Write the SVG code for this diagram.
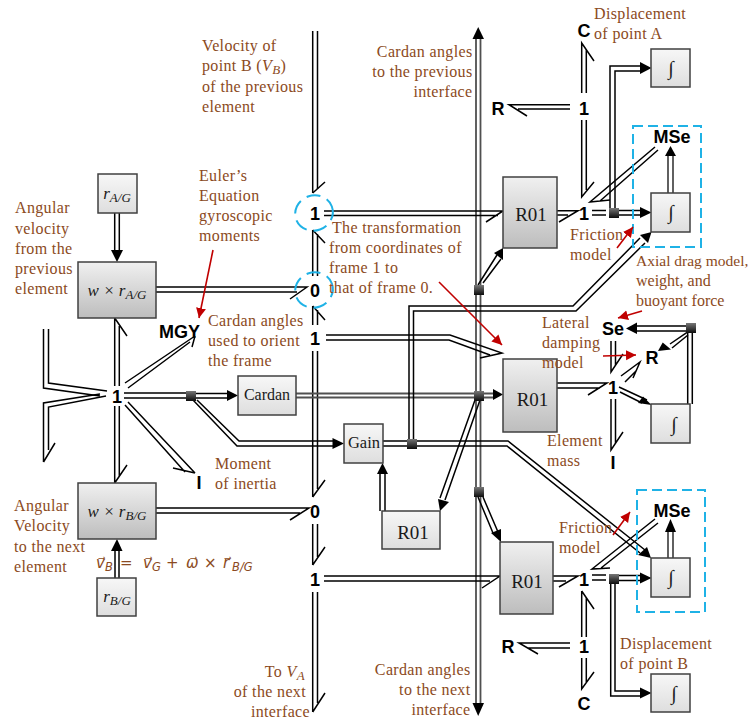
<svg xmlns="http://www.w3.org/2000/svg" width="753" height="720" viewBox="0 0 753 720">
<style>
text{font-family:"Liberation Serif","Times New Roman",serif}
.t{font-size:16px;fill:#8b4a22;letter-spacing:.35px}
.e{text-anchor:end}
.m{text-anchor:middle}
.k{font-family:"Liberation Sans",Arial,sans-serif;font-size:18px;font-weight:700;fill:#000;text-anchor:middle}
.n{fill:#1a1a1a;text-anchor:middle}
.i{font-style:italic}
.s{font-size:13px;font-style:italic}
.f{font-family:"DejaVu Sans",sans-serif;font-size:15px;font-style:italic;fill:#8b4a22;letter-spacing:0}
.fs{font-size:11.500px}
.l{fill:none;stroke:#000;stroke-width:1.5}
.g{fill:none;stroke:#505050;stroke-width:1.8}
.h{fill:#000;stroke:none}
.r{fill:none;stroke:#c00000;stroke-width:1.6;marker-end:url(#red)}
.bx{stroke:#404040;stroke-width:1.5}
.lt{fill:url(#light)}
.dk{fill:url(#dark)}
.j{fill:url(#junction)}
.c{fill:none;stroke:#1fb2e6;stroke-width:2}
.int{font-size:20px;fill:#222;text-anchor:middle}
</style>
<defs>
<linearGradient id="light" x1="0" y1="0" x2="0" y2="1"><stop offset="0" stop-color="#f7f7f7"/><stop offset="1" stop-color="#dedede"/></linearGradient>
<linearGradient id="dark" x1="0" y1="0" x2="0" y2="1"><stop offset="0" stop-color="#f0f0f0"/><stop offset="1" stop-color="#bdbdbd"/></linearGradient>
<linearGradient id="junction" x1="0" y1="0" x2="0" y2="1"><stop offset="0" stop-color="#777"/><stop offset="1" stop-color="#0c0c0c"/></linearGradient>
<marker id="red" markerUnits="userSpaceOnUse" markerWidth="12" markerHeight="12" refX="10" refY="5" orient="auto"><path d="M0 0L10 5L0 10Z" fill="#c00000"/></marker>
</defs>

<g id="connectors">
<path class="l" d="M312.7 31V193M317.5 31V189"/>
<path class="l" d="M312.7 193L325 182"/>
<path class="l" d="M312.7 230V276M317.5 234V276M312.7 230L325 243"/>
<path class="l" d="M312.7 306V325M317.5 310V325M312.7 306L325 320"/>
<path class="l" d="M312.7 351V497M317.5 351V489M312.7 497L325 480"/>
<path class="l" d="M312.7 524V565M317.5 524V557M312.7 565L325 547"/>
<path class="l" d="M312.7 592V712M317.5 592V703M312.7 712L325 693"/>
<path class="g" d="M476 38V703M480.5 38V703"/>
<polygon class="h" points="478.2,27 484,39 472.5,39"/>
<polygon class="h" points="478.2,716 484,703 472.5,703"/>
<path class="l" d="M114.7 213V250M119.3 213V250"/>
<polygon class="h" points="117,262 111,250 123,250"/>
<path class="l" d="M115 551V578M119 551V578"/>
<polygon class="h" points="117,539 111,551 122.500,551"/>
<path class="l" d="M114.700 318V386M119.300 326V386M114.700 318L127 336"/>
<path class="l" d="M114.700 406V483M119.300 406V476M114.700 483L127 465"/>
<path class="l" d="M43.500 329V388L100 396M48.500 329V383L107 391"/>
<path class="l" d="M43.500 462V403L100 394M48.500 450V407L106 396M43.500 462L55 443"/>
<path class="l" d="M125 383L195 336M128 388L190 342M195 336L192 347"/>
<path class="l" d="M125 405L185 472M128 402L195 473M195 473L173 468"/>
<path class="l" d="M124 393H186M124 398H186"/>
<path class="l" d="M196 393.500H228M196 398H228"/>
<polygon class="h" points="238,395.500 227,390 227,401"/>
<path class="l" d="M193 400L237 446H333M197 400L239 441H333"/>
<polygon class="h" points="344,443.500 332.500,438 332.500,449"/>
<path class="g" d="M296 393.500H494M296 397.500H494"/>
<polygon class="h" points="503,394.500 493,389 493,400"/>
<path class="l" d="M383 441H407M383 446H407"/>
<path class="l" d="M417 441H508L645 550M417 446H507L640 553"/>
<polygon class="h" points="651,558 638,555 647,547"/>
<path class="l" d="M409 439V306H573L640 238M413.500 439V311H576L645 243"/>
<polygon class="h" points="651.500,232 640,235 648,243"/>
<path class="l" d="M478 285L497 255M483 283L501 259"/>
<polygon class="h" points="503,248 494,253 503,260"/>
<path class="l" d="M475 400L440 498M480 400L445 500"/>
<polygon class="h" points="440,511 438,499 449,502"/>
<path class="l" d="M380 511V474M385 511V474"/>
<polygon class="h" points="382.500,463 377,474 388,474"/>
<path class="l" d="M478 497L493 533M483 497L498 532"/>
<polygon class="h" points="501,542 491,533 501,529"/>
<path class="l" d="M324 576H500L482 588M324 581H490"/>
<path class="l" d="M324 211H503L486 222M324 215.500H498"/>
<path class="l" d="M326 335H450L502 353L480 358M326 340H449L490 355"/>
<path class="l" d="M156 287H307L290 299M156 292H297"/>
<path class="l" d="M156 508H309L290 520M156 513H300"/>
<path class="l" d="M557 210.700H578L559 222M557 215H568"/>
<path class="l" d="M592 210.500H606M592 215H606"/>
<path class="l" d="M619 210.500H640M619 215H640"/>
<polygon class="h" points="651.500,212.500 640,207 640,218"/>
<path class="l" d="M610 208V66H640M615 208V71H640"/>
<polygon class="h" points="651.500,68 640,62 640,74"/>
<path class="l" d="M581.700 120V197L594 182M586.300 120V190"/>
<path class="l" d="M581.700 93V43L594 61M586.300 93V50"/>
<path class="l" d="M570 104.700H509L527 116M570 109H518"/>
<path class="l" d="M655 147L590 202L610 200M658 150L600 201"/>
<path class="g" d="M668 193V156M673 193V156"/>
<polygon class="h" points="670.500,146 665,156 676,156"/>
<path class="l" d="M557 383H607L588 395M557 388H600"/>
<path class="l" d="M611 341V372L623 354M615.500 341V365"/>
<path class="l" d="M611 399V450L623 432M615.500 399V443"/>
<path class="l" d="M621 376L640 362L633 378M625 382L636 371"/>
<path class="l" d="M619 387L647 400M620 392L642 403"/>
<polygon class="h" points="651.500,405 638,403 643,396.500"/>
<path class="l" d="M687.700 333V404M692.300 333V404"/>
<path class="l" d="M686 326H637M686 331H637"/>
<polygon class="h" points="626,328.500 637,322.500 637,334"/>
<path class="l" d="M686.700 332.700L670 344M688 335L672 348"/>
<polygon class="h" points="658,351 662.700,342.500 671,349.500"/>
<path class="l" d="M553 576H578L559 587M553 581H566"/>
<path class="l" d="M592 575H606M592 580H606"/>
<path class="l" d="M619 575.500H640M619 580.500H640"/>
<polygon class="h" points="651.500,578 640,572.500 640,583.500"/>
<path class="l" d="M615 584V691H640M610.700 584V696H640"/>
<polygon class="h" points="651.500,693 640,687.500 640,698.500"/>
<path class="l" d="M581.700 591V637M586.300 598V637M581.700 591L594 609"/>
<path class="l" d="M581.700 658V689L594 672M586.300 658V682"/>
<path class="l" d="M570 643H519L538 654M570 648H528"/>
<path class="l" d="M655 519L592 569L610 568M658 523L601 568"/>
<path class="g" d="M668 558V532M673 558V532"/>
<polygon class="h" points="670.500,519 665,532 676,532"/>
</g>

<g id="highlights">
<ellipse class="c" cx="314" cy="213" rx="19" ry="17.500" stroke-dasharray="14 7" transform="rotate(-20 314 213)"/>
<ellipse class="c" cx="314" cy="290" rx="19" ry="17.500" stroke-dasharray="14 7" transform="rotate(-20 314 290)"/>
<rect class="c" x="633" y="126" width="68" height="121" stroke-dasharray="10 5"/>
<rect class="c" x="637" y="490" width="68" height="122" stroke-dasharray="10 5"/>
</g>

<g id="node-rAG"><rect class="bx lt" x="98" y="174" width="39" height="39"/><text class="n i" x="117" y="199" font-size="17">r<tspan class="s" dy="3">A/G</tspan></text></g>
<g id="node-wrAG"><rect class="bx dk" x="78" y="262" width="78" height="56"/><text class="n i" x="117" y="296" font-size="17">w × r<tspan class="s" dy="3">A/G</tspan></text></g>
<g id="node-wrBG"><rect class="bx dk" x="78" y="483" width="78" height="56"/><text class="n i" x="117" y="517" font-size="17">w × r<tspan class="s" dy="3">B/G</tspan></text></g>
<g id="node-rBG"><rect class="bx lt" x="97" y="578" width="39" height="38"/><text class="n i" x="117" y="602" font-size="17">r<tspan class="s" dy="3">B/G</tspan></text></g>
<g id="node-cardan"><rect class="bx lt" x="238" y="376" width="58" height="39"/><text class="n" x="267" y="400" font-size="16">Cardan</text></g>
<g id="node-gain"><rect class="bx lt" x="344" y="424" width="39" height="39"/><text class="n" x="364" y="448" font-size="16.500px">Gain</text></g>
<g id="node-r01-small"><rect class="bx lt" x="382" y="511" width="58" height="38"/><text class="n" x="413" y="539" font-size="19">R01</text></g>
<g id="node-r01-top"><rect class="bx dk" x="503" y="177" width="54" height="71"/><text class="n" x="531" y="221" font-size="19">R01</text></g>
<g id="node-r01-mid"><rect class="bx dk" x="503" y="359" width="54" height="73"/><text class="n" x="532.500" y="406" font-size="19">R01</text></g>
<g id="node-r01-bottom"><rect class="bx dk" x="500" y="542" width="53" height="72"/><text class="n" x="527" y="588" font-size="19">R01</text></g>
<g id="node-int1"><rect class="bx lt" x="651" y="49" width="39" height="38"/><text class="int" x="671" y="75">∫</text></g>
<g id="node-int2"><rect class="bx lt" x="651" y="193" width="39" height="39"/><text class="int" x="671" y="219">∫</text></g>
<g id="node-int3"><rect class="bx lt" x="651" y="404" width="39" height="39"/><text class="int" x="674" y="431">∫</text></g>
<g id="node-int4"><rect class="bx lt" x="651" y="558" width="39" height="39"/><text class="int" x="671" y="584">∫</text></g>
<g id="node-int5"><rect class="bx lt" x="651" y="674" width="39" height="38"/><text class="int" x="674" y="700">∫</text></g>

<g id="junctions">
<rect class="j" x="186" y="391" width="10" height="10"/>
<rect class="j" x="474" y="285" width="10" height="10"/>
<rect class="j" x="474" y="391" width="10" height="10"/>
<rect class="j" x="474" y="487" width="10" height="10"/>
<rect class="j" x="407" y="439" width="10" height="10"/>
<rect class="j" x="609" y="208" width="10" height="10"/>
<rect class="j" x="686" y="323" width="10" height="10"/>
<rect class="j" x="609" y="574" width="10" height="10"/>
</g>

<g id="junction-labels">
<text class="k" x="315" y="219.500">1</text>
<text class="k" x="315" y="296.500">0</text>
<text class="k" x="315" y="344.500">1</text>
<text class="k" x="315" y="517.500">0</text>
<text class="k" x="315" y="585.500">1</text>
<text class="k" x="117" y="402.500">1</text>
<text class="k" x="179.500" y="338">MGY</text>
<text class="k" x="199" y="489">I</text>
<text class="k" x="584" y="37">C</text>
<text class="k" x="584" y="114.500">1</text>
<text class="k" x="498" y="114.500">R</text>
<text class="k" x="584" y="219.500">1</text>
<text class="k" x="672" y="143">MSe</text>
<text class="k" x="613" y="334.500">Se</text>
<text class="k" x="652" y="364">R</text>
<text class="k" x="613" y="393.500">1</text>
<text class="k" x="613" y="469">I</text>
<text class="k" x="584" y="585.500">1</text>
<text class="k" x="672" y="517">MSe</text>
<text class="k" x="584" y="652.500">1</text>
<text class="k" x="508" y="652.500">R</text>
<text class="k" x="584" y="710">C</text>
</g>

<g id="annotations">
<text class="t"><tspan x="15" y="213">Angular</tspan><tspan x="15" y="233.500">velocity</tspan><tspan x="15" y="254">from the</tspan><tspan x="15" y="274">previous</tspan><tspan x="15" y="294">element</tspan></text>
<text class="t"><tspan x="14" y="511">Angular</tspan><tspan x="14" y="531">Velocity</tspan><tspan x="14" y="551.500">to the next</tspan><tspan x="14" y="572">element</tspan></text>
<text class="t"><tspan x="199" y="181">Euler’s</tspan><tspan x="199" y="201">Equation</tspan><tspan x="199" y="221">gyroscopic</tspan><tspan x="199" y="241">moments</tspan></text>
<text class="t"><tspan x="208" y="326">Cardan angles</tspan><tspan x="208" y="346">used to orient</tspan><tspan x="208" y="366">the frame</tspan></text>
<text class="t"><tspan x="215" y="469">Moment</tspan><tspan x="215" y="489">of inertia</tspan></text>
<text class="t"><tspan x="202" y="51">Velocity of</tspan><tspan x="202" y="71">point B (<tspan class="i">V</tspan><tspan class="s" dy="3">B</tspan><tspan dy="-3">)</tspan></tspan><tspan x="202" y="92">of the previous</tspan><tspan x="202" y="112">element</tspan></text>
<text class="t"><tspan x="332" y="233">The transformation</tspan><tspan x="329" y="253">from coordinates of</tspan><tspan x="329" y="273">frame 1 to</tspan><tspan x="329" y="293">that of frame 0.</tspan></text>
<text class="t e"><tspan x="472.500" y="57">Cardan angles</tspan><tspan x="472.500" y="77">to the previous</tspan><tspan x="472.500" y="97">interface</tspan></text>
<text class="t e"><tspan x="470.500" y="675">Cardan angles</tspan><tspan x="470.500" y="695">to the next</tspan><tspan x="470.500" y="715">interface</tspan></text>
<text class="t e"><tspan x="305" y="677">To <tspan class="i">V</tspan><tspan class="s" dy="3">A</tspan></tspan><tspan x="306" y="697">of the next</tspan><tspan x="310" y="717">interface</tspan></text>
<text class="t"><tspan x="594" y="19">Displacement</tspan><tspan x="594" y="39">of point A</tspan></text>
<text class="t"><tspan x="570" y="240">Friction</tspan><tspan x="570" y="260">model</tspan></text>
<text class="t" style="letter-spacing:0"><tspan x="636" y="266" font-size="15.500">Axial drag model,</tspan><tspan x="636" y="286">weight, and</tspan><tspan x="636" y="306">buoyant force</tspan></text>
<text class="t"><tspan x="542" y="328">Lateral</tspan><tspan x="542" y="348">damping</tspan><tspan x="542" y="368">model</tspan></text>
<text class="t"><tspan x="547" y="446">Element</tspan><tspan x="547" y="466">mass</tspan></text>
<text class="t"><tspan x="559" y="533">Friction</tspan><tspan x="559" y="553">model</tspan></text>
<text class="t"><tspan x="620" y="649">Displacement</tspan><tspan x="620" y="669">of point B</tspan></text>
<text class="f" y="568"><tspan x="96">v⃗</tspan><tspan class="fs" x="105" y="571">B</tspan><tspan x="120" y="568">=</tspan><tspan x="143">v⃗</tspan><tspan class="fs" x="152" y="571">G</tspan><tspan x="166" y="568">+</tspan><tspan x="186">ω⃗</tspan><tspan x="204">×</tspan><tspan x="223">r⃗</tspan><tspan class="fs" x="232" y="571">B/G</tspan></text>
</g>

<g id="callouts">
<path class="r" d="M213 250L199 318"/>
<path class="r" d="M617 248L633 227"/>
<path class="r" d="M439 282L502 345"/>
<path class="r" d="M642 311L618 318"/>
<path class="r" d="M603 356L636 355"/>
<path class="r" d="M613 535L630 512"/>
</g>
</svg>
